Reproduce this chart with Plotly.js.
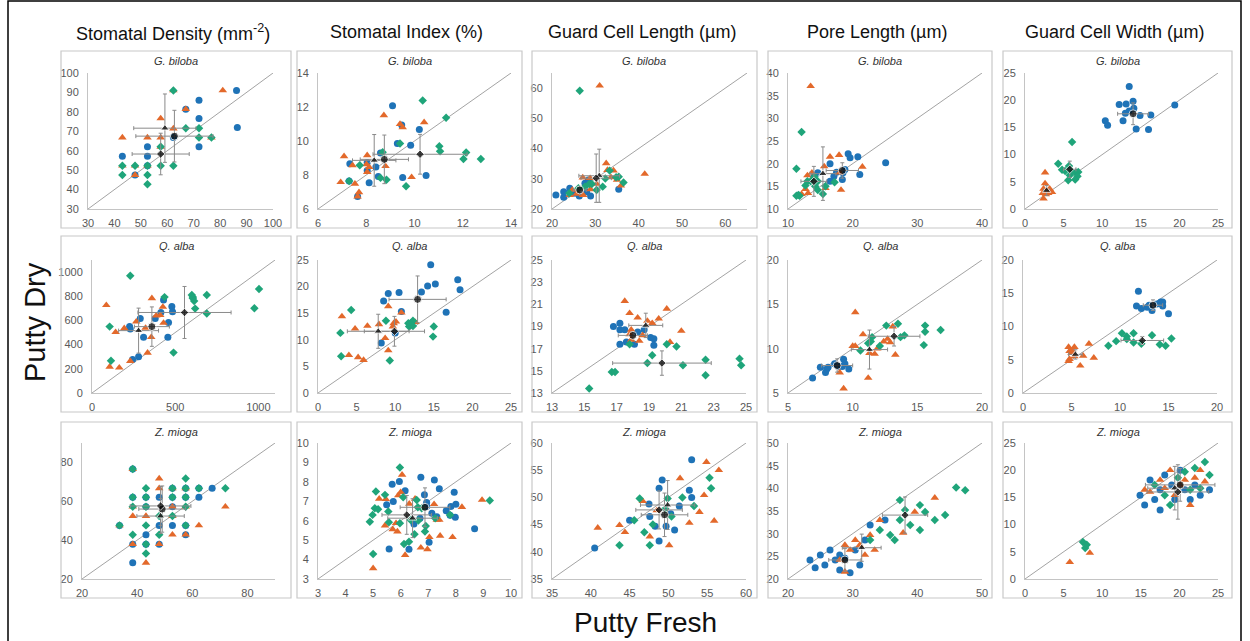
<!DOCTYPE html>
<html><head><meta charset="utf-8">
<script src="https://cdn.plot.ly/plotly-3.0.1.min.js"></script>
<style>html,body{margin:0;padding:0;background:#fff}#chart{width:1250px;height:641px}</style>
</head><body><div id="chart"></div>
<script>
// ---------- column titles / row species ----------
const colTitles = ["Stomatal Density (mm<sup>-2</sup>)","Stomatal Index (%)","Guard Cell Length (µm)","Pore Length (µm)","Guard Cell Width (µm)"];
const species = ["G. biloba","Q. alba","Z. mioga"];
const xAxisTitle = "Putty Fresh";
const yAxisTitle = "Putty Dry";

// ---------- axis ranges per panel (row-major) ----------
const ranges = [[30,100],[6,14],[20,65],[10,40],[0,25],
                [0,1100],[0,25],[13,25],[5,20],[0,20],
                [20,90],[3,10],[35,60],[20,50],[0,25]];
const tickStart = [30,6,20,10,0, 0,0,13,5,0, 20,3,35,20,0];
const xTickStep = [10,2,10,10,5, 500,5,2,5,5, 20,1,5,10,5];
const yTickStep = [10,2,10,5,5, 200,5,2,5,5, 20,1,5,5,5];

// ---------- data: blue circles, orange triangles, green diamonds; means [blue, orange, green] ----------
// Panel 1: G. biloba, stomatal density
const p1_blue_x = [86.2,72,72,67,62.3,86.5,72,52.5,52.5,43,52.5,47.8];
const p1_blue_y = [91,86,76.6,81.4,66.8,72,62,62,57.1,57.1,52.3,47.5];
const p1_orange_x = [81,67,62.3,57.5,43,52.5,57.5,62.3,76.7,57.5,43,47.8,52.5,47.8];
const p1_orange_y = [91,81.4,91,76.6,66.8,66.8,66.8,71.4,66.8,62,52.3,52.3,52.3,47.5];
const p1_green_x = [62.3,67,72,72,76.7,57.5,43,47.8,52.5,57.5,62.3,43,52.5,52.5];
const p1_green_y = [91,71.6,71.6,66.8,66.8,62,52.3,52.3,52.3,52.3,52.3,47.5,47.5,42.7];
const p1_mean_x = [62.7,59.1,57.5], p1_mean_y = [67.5,71.6,58.3], p1_mean_ex = [14.6,11.8,10.8], p1_mean_ey = [13.3,17.6,10.7];
// Panel 2: G. biloba, stomatal index
const p2_blue_x = [9.09,10.2,9.47,9.84,9.29,8.59,8.04,7.32,8.4,8.04,8.5,9.51,10.48,8.12,7.29,7.64];
const p2_blue_y = [12.08,10.68,10.94,9.75,9.85,9.3,8.74,8.66,8.47,8.27,7.91,7.85,7.97,7.54,7.64,6.73];
const p2_orange_x = [8.73,10.4,9.4,9.51,7.08,8.04,7.43,8.01,8.12,8.04,8.8,6.94,7.53,7.7,7.64,9.88];
const p2_orange_y = [11.51,11.1,11.0,10.8,9.1,9.16,8.57,8.63,8.47,8.17,8.52,7.58,7.48,6.98,6.73,7.87];
const p2_green_x = [10.34,11.31,11.03,11.06,12.14,12.03,12.75,8.68,9.4,7.73,8.59,8.84,9.65,7.29];
const p2_green_y = [12.38,11.37,9.69,9.4,9.32,8.94,8.94,9.34,9.85,8.57,7.83,7.72,7.34,7.64];
const p2_mean_x = [8.75,8.33,10.23], p2_mean_y = [8.92,8.86,9.22], p2_mean_ex = [1.0,0.9,1.95], p2_mean_ey = [1.43,1.52,1.17];
// Panel 3: G. biloba, guard cell length
const p3_blue_x = [20.9,22.7,22.7,24.1,25.3,26.3,27.6,28.0,28.9,28.4,35.4];
const p3_blue_y = [24.6,25.7,23.9,26.9,25.2,24.3,28.5,25.7,24.3,29.6,26.5];
const p3_orange_x = [31.0,41.4,24.1,24.7,25.7,27.2,27.1,28.8,28.9,30.3,32.5,32.8,33.6,34.2,35.0,35.9];
const p3_orange_y = [60.8,31.6,24.6,26.3,25.0,24.6,30.4,30.2,26.5,28.3,35.1,32.9,30.5,32.7,29.6,27.7];
const p3_green_x = [26.4,24.0,26.1,27.6,29.2,30.3,31.7,32.3,33.3,34.8,35.4,36.5,28.6];
const p3_green_y = [59.1,25.2,26.9,27.4,28.3,26.3,27.4,30.1,32.7,30.5,30.7,28.8,28.3];
const p3_mean_x = [26.4,30.9,30.2], p3_mean_y = [26.3,31.0,30.2], p3_mean_ex = [1.5,4.7,3.5], p3_mean_ey = [1.2,8.8,8.0];
// Panel 4: G. biloba, pore length
const p4_blue_x = [25.1,19.3,19.6,20.8,21.1,16.5,17.5,18.5,18.8,18.4,16.5,14.6,14.0,17.1];
const p4_blue_y = [20.2,22.2,21.3,21.5,17.6,20.0,18.1,18.0,18.7,16.5,16.1,18.0,17.1,17.2];
const p4_orange_x = [13.5,16.5,17.9,15.6,21.5,18.2,13.0,13.7,12.7,13.1,12.1,15.8,18.0];
const p4_orange_y = [37.1,21.5,21.9,19.4,19.3,14.2,17.4,18.0,14.4,13.5,13.3,14.6,18.0];
const p4_green_x = [12.1,11.3,11.6,11.8,12.7,13.0,13.5,14.2,14.6,15.4,15.8,14.6,17.2,14.1,11.3];
const p4_green_y = [27.0,18.9,13.1,12.9,15.2,16.1,16.1,15.0,14.2,13.3,15.0,16.1,15.9,17.1,12.9];
const p4_mean_x = [18.4,15.4,14.0], p4_mean_y = [18.5,17.8,16.1], p4_mean_ex = [2.5,2.0,2.0], p4_mean_ey = [1.7,5.9,3.3];
// Panel 5: G. biloba, guard cell width
const p5_blue_x = [13.5,12.2,13.1,14.0,14.1,13.5,13.0,14.9,16.3,19.4,10.4,10.7,12.7,14.4,16.0];
const p5_blue_y = [22.5,19.2,19.3,19.8,18.5,18.0,17.6,17.2,17.3,19.1,16.2,15.4,16.2,14.7,14.6];
const p5_orange_x = [2.6,2.6,2.3,2.4,2.7,3.0,3.2,3.0,2.4,3.5];
const p5_orange_y = [6.7,4.7,2.9,1.9,2.7,3.4,3.7,2.9,3.7,3.1];
const p5_green_x = [6.1,4.3,5.7,4.8,5.2,5.8,5.6,6.6,6.9,6.8,6.5,6.1];
const p5_green_y = [12.3,8.3,7.9,7.2,7.0,6.2,5.3,6.7,6.8,6.0,5.4,6.8];
const p5_mean_x = [14.0,2.8,5.8], p5_mean_y = [17.5,3.4,7.3], p5_mean_ex = [2.0,0.4,0.8], p5_mean_ey = [2.0,0.9,1.5];
// Panel 6: Q. alba, stomatal density
const p6_blue_x = [430,480,484,414,380,290,226,230,460,310,456,244,280];
const p6_blue_y = [769,715,671,666,617,617,549,530,584,462,462,277,299];
const p6_orange_x = [360,86,426,410,386,266,194,142,322,430,356,334,230,106,164];
const p6_orange_y = [783,726,712,644,639,590,535,503,538,579,462,332,264,217,209];
const p6_green_x = [230,606,436,600,606,614,690,620,690,976,1004,106,114,490];
const p6_green_y = [970,793,793,810,783,761,810,698,658,701,861,549,266,334];
const p6_mean_x = [360,280,556], p6_mean_y = [549,516,666], p6_mean_ex = [105,120,280], p6_mean_ey = [163,186,215];
// Panel 7: Q. alba, stomatal index
const p7_blue_x = [14.6,18.1,18.4,15.2,14.2,13.4,10.5,9.1,8.5,16.6,10.8,8.2,10.0];
const p7_blue_y = [24.1,21.3,19.4,20.5,20.1,19.0,18.9,18.7,17.3,15.2,15.3,9.4,11.3];
const p7_orange_x = [3.1,9.1,10.8,4.8,6.4,7.9,9.7,10.1,9.8,12.6,8.7,9.1,4.0,5.2,5.9];
const p7_orange_y = [14.4,16.3,15.1,12.1,12.6,12.9,12.5,13.4,13.1,13.3,10.3,8.0,7.1,6.7,6.2];
const p7_green_x = [4.3,2.9,3.0,8.8,9.3,12.3,12.0,11.8,12.3,15.0,14.9,11.7];
const p7_green_y = [15.6,11.3,6.9,13.6,6.1,13.6,13.1,12.5,12.6,12.5,10.6,13.1];
const p7_mean_x = [12.9,7.8,9.9], p7_mean_y = [17.6,11.6,11.6], p7_mean_ex = [3.7,4.0,3.9], p7_mean_ey = [4.4,3.2,2.8];
// Panel 8: Q. alba, guard cell length
const p8_blue_x = [16.8,17.2,17.2,17.5,18.7,18.3,19.1,19.3,17.2,17.6,18.1,19.3];
const p8_blue_y = [19.0,19.3,18.7,18.7,18.7,18.5,18.0,17.9,17.4,17.6,17.4,17.3];
const p8_orange_x = [17.5,17.8,18.3,20.1,18.9,19.2,19.6,21.0,17.9,17.8,18.6,17.9,18.4,20.3];
const p8_orange_y = [21.3,20.2,19.8,20.6,19.5,19.3,19.7,18.6,18.7,18.3,18.2,17.8,17.7,17.6];
const p8_green_x = [17.8,19.2,18.9,20.1,20.7,21.1,22.5,22.5,24.6,24.7,16.7,16.9,15.3];
const p8_green_y = [17.4,16.4,15.7,17.4,17.2,15.5,16.0,14.6,16.1,15.5,14.9,14.9,13.4];
const p8_mean_x = [18.0,18.8,19.8], p8_mean_y = [18.2,19.1,15.7], p8_mean_ex = [0.9,1.05,3.05], p8_mean_ey = [0.3,1.1,1.1];
// Panel 9: Q. alba, pore length
const p9_blue_x = [6.9,7.5,7.9,8.0,8.1,8.6,9.2,9.3,9.4,9.7,8.9];
const p9_blue_y = [6.7,7.9,7.3,7.7,7.9,8.3,8.0,8.8,8.3,7.7,8.0];
const p9_orange_x = [10.2,10.8,10.0,10.2,13.1,12.4,12.7,12.9,11.9,11.7,11.3,13.3,9.0,11.2,9.3];
const p9_orange_y = [14.1,11.6,10.3,10.3,12.5,10.8,11.1,10.7,10.0,9.4,9.5,9.3,7.3,6.7,5.5];
const p9_green_x = [10.6,11.5,11.2,11.4,12.1,12.6,13.5,13.7,14.0,15.6,15.6,15.5,16.8];
const p9_green_y = [9.8,11.3,10.6,10.8,10.3,12.6,12.8,11.3,11.5,12.6,11.9,10.4,12.1];
const p9_mean_x = [8.8,11.3,13.2], p9_mean_y = [8.1,9.9,11.4], p9_mean_ex = [1.2,1.4,2.0], p9_mean_ey = [0.75,2.2,1.1];
// Panel 10: Q. alba, guard cell width
const p10_blue_x = [11.9,11.7,12.2,12.8,13.3,13.8,14.2,14.4,15.0,13.0,14.1,14.4];
const p10_blue_y = [15.3,13.1,12.7,12.9,12.4,13.4,13.7,13.1,11.9,13.2,13.5,13.7];
const p10_orange_x = [4.7,5.3,6.8,4.8,5.0,4.7,4.8,5.3,6.2,7.3,5.9,5.1];
const p10_orange_y = [6.9,6.9,7.4,6.3,6.0,4.8,5.1,5.5,5.6,5.3,4.1,6.4];
const p10_green_x = [8.8,9.6,10.2,10.7,10.7,11.4,11.4,12.2,13.3,14.1,14.7,15.3];
const p10_green_y = [7.1,7.8,9.0,8.5,8.1,7.6,9.0,7.4,8.7,7.3,7.1,8.2];
const p10_mean_x = [13.4,5.4,12.3], p10_mean_y = [13.2,5.8,7.9], p10_mean_ex = [1.0,0.7,2.2], p10_mean_ey = [0.8,0.7,0.6];
// Panel 11: Z. mioga, stomatal density
const p11_blue_x = [67.2,48,62.4,43.2,52.8,48,52.8,43.2,57.6,38.4,48,38.4,38.4,52.8,57.6,62.4,38.4,43.2,52.8,57.6,33.6,57.6,43.2];
const p11_blue_y = [66.7,62.1,62.1,57.2,57.2,47.6,47.6,42.8,42.8,37.9,37.9,28.3,76.6,66.7,66.7,66.7,62.1,62.1,62.1,62.1,47.6,47.6,37.9];
const p11_orange_x = [38.4,48,48,52.8,57.6,38.4,52.8,57.6,72,38.4,43.2,52.8,33.6,62.4,52.8,57.6,38.4,48,43.2];
const p11_orange_y = [76.6,71.7,66.7,66.7,66.7,57.2,57.2,57.2,57.2,52.4,52.4,52.4,47.6,47.6,42.8,42.8,37.9,37.9,28.3];
const p11_green_x = [38.4,57.6,43.2,52.8,57.6,62.4,72,38.4,43.2,52.8,57.6,38.4,43.2,57.6,48,52.8,33.6,43.2,57.6,38.4,48,43.2,43.2];
const p11_green_y = [76.6,71.7,66.7,66.7,66.7,66.7,66.7,62.1,62.1,62.1,62.1,57.2,57.2,57.2,52.4,52.4,47.6,47.6,47.6,42.8,42.8,37.9,33.1];
const p11_mean_x = [49.1,48.5,48.5], p11_mean_y = [56.0,52.4,57.6], p11_mean_ex = [8.5,8.6,11], p11_mean_ey = [11.9,9,10];
// Panel 12: Z. mioga, stomatal index
const p12_blue_x = [5.95,5.69,6.73,7.22,7.4,7.94,6.16,5.73,5.49,6.86,6.94,6.94,7.13,7.31,7.65,7.79,7.82,8.0,7.98,6.7,6.48,8.68,5.58,6.3,7.03];
const p12_blue_y = [8.02,7.88,8.24,8.1,7.64,7.47,7.54,6.99,6.82,7.33,6.94,6.73,6.39,6.21,6.51,6.28,6.73,6.85,6.18,6.13,5.83,5.58,4.54,4.53,4.89];
const p12_orange_x = [6.05,6.0,5.91,5.46,5.22,6.31,6.52,7.21,8.95,8.22,7.31,7.4,5.43,5.83,5.88,5.71,7.43,7.88,7.04,6.73,6.97,6.16,5.0];
const p12_orange_y = [8.36,7.47,7.3,7.11,7.13,6.87,7.13,6.85,7.07,6.7,6.04,6.04,5.75,5.87,5.44,5.56,5.22,5.15,5.15,4.61,4.53,4.23,3.55];
const p12_green_x = [5.97,5.1,5.43,5.06,5.18,5.55,4.98,4.88,5.57,5.97,6.09,6.58,6.76,6.62,6.36,6.64,6.91,6.88,6.5,6.12,6.3,5.0,9.23,7.79,7.25];
const p12_green_y = [8.74,7.5,7.33,6.64,6.59,6.47,6.3,5.95,5.92,5.87,7.21,7.07,6.64,6.69,6.04,6.01,5.73,5.44,5.3,4.8,4.92,4.29,7.04,6.3,6.13];
const p12_mean_x = [6.88,6.43,6.22], p12_mean_y = [6.69,6.13,6.3], p12_mean_ex = [0.9,0.9,0.9], p12_mean_ey = [1.0,1.0,1.0];
// Panel 13: Z. mioga, guard cell length
const p13_blue_x = [53.0,52.7,53.0,48.8,49.2,47.6,48.3,48.8,45,49.7,40.5,50.8,51.4,47.5,50.3];
const p13_blue_y = [56.9,51.3,50.0,51.7,53.2,46.5,44.7,42.0,45.8,44.7,40.7,44.0,48.4,48.8,47.0];
const p13_orange_x = [54.9,54.6,55.9,54.0,48.5,46.7,44.4,43.7,50.1,40.9,47.6,52.7,56.5,51.5];
const p13_orange_y = [56.5,50.4,45.7,47.3,47.6,49.3,43.6,44.9,41.2,44.4,42.8,45.3,55.0,53.5];
const p13_green_x = [55.3,55.5,51.8,49.9,46.3,47.6,46.9,50.4,49.6,43.7,45.6,53.3,48.0];
const p13_green_y = [53.6,51.7,50.0,49.8,49.8,41.2,43.6,46.5,47.9,41.2,45.8,48.4,45.0];
const p13_mean_x = [49.5,49.9,48.8], p13_mean_y = [46.8,48.6,47.7], p13_mean_ex = [3,3.5,3], p13_mean_ey = [4,4.5,3.5];
// Panel 14: Z. mioga, pore length
const p14_blue_x = [35.0,32.7,30.4,28.0,26.5,25.0,24.2,25.7,28.0,29.6,27.3,28.8,31.1,23.4,31.9];
const p14_blue_y = [33.0,31.9,26.4,25.3,26.4,25.3,22.5,23.1,22.0,21.4,24.2,24.6,23.1,24.2,28.6];
const p14_orange_x = [42.7,37.8,34.2,32.7,31.1,29.6,31.9,28.0,28.8,33.4,30.4,39.6,28.8];
const p14_orange_y = [37.9,30.2,33.0,29.7,27.5,26.4,25.3,24.2,21.6,26.4,28.6,34.8,27.5];
const p14_green_x = [47.4,46.0,40.4,37.3,38.9,36.5,40.4,42.7,41.2,38.1,34.2,32.7,44.3,37.3,35.8];
const p14_green_y = [39.6,40.2,36.3,33.0,31.9,28.6,30.8,33.0,34.8,35.2,30.8,28.6,34.1,37.4,29.7];
const p14_mean_x = [28.8,31.4,38.1], p14_mean_y = [24.2,26.9,34.1], p14_mean_ex = [2.5,3,3.5], p14_mean_ey = [2.5,3,4];
// Panel 15: Z. mioga, guard cell width
const p15_blue_x = [20.1,19.0,17.5,16.2,18.1,20.7,22.0,22.7,23.9,16.8,15.5,17.5,19.4,14.9,21.4];
const p15_blue_y = [20.0,17.3,16.4,18.2,19.1,16.4,17.3,15.4,16.4,14.6,13.6,12.7,14.6,15.4,14.6];
const p15_orange_x = [18.8,22.0,20.7,16.2,18.1,19.4,21.4,22.7,20.1,17.5,23.3,15.5,8.4,5.8];
const p15_orange_y = [20.0,18.6,18.2,16.0,16.7,15.4,13.6,20.0,17.3,18.2,17.9,16.4,4.8,3.1];
const p15_green_x = [23.3,22.0,23.9,20.7,19.8,18.1,21.4,22.7,18.8,16.8,7.5,7.8,8.0];
const p15_green_y = [21.5,20.4,19.1,19.7,18.6,15.4,16.4,16.7,13.6,17.3,6.8,5.7,6.3];
const p15_mean_x = [20.1,19.4,19.8], p15_mean_y = [17.3,16.7,16.0], p15_mean_ex = [4.5,3.5,4], p15_mean_ey = [3,4,5];

const panels = [
 [p1_blue_x,p1_blue_y,p1_orange_x,p1_orange_y,p1_green_x,p1_green_y,p1_mean_x,p1_mean_y,p1_mean_ex,p1_mean_ey],
 [p2_blue_x,p2_blue_y,p2_orange_x,p2_orange_y,p2_green_x,p2_green_y,p2_mean_x,p2_mean_y,p2_mean_ex,p2_mean_ey],
 [p3_blue_x,p3_blue_y,p3_orange_x,p3_orange_y,p3_green_x,p3_green_y,p3_mean_x,p3_mean_y,p3_mean_ex,p3_mean_ey],
 [p4_blue_x,p4_blue_y,p4_orange_x,p4_orange_y,p4_green_x,p4_green_y,p4_mean_x,p4_mean_y,p4_mean_ex,p4_mean_ey],
 [p5_blue_x,p5_blue_y,p5_orange_x,p5_orange_y,p5_green_x,p5_green_y,p5_mean_x,p5_mean_y,p5_mean_ex,p5_mean_ey],
 [p6_blue_x,p6_blue_y,p6_orange_x,p6_orange_y,p6_green_x,p6_green_y,p6_mean_x,p6_mean_y,p6_mean_ex,p6_mean_ey],
 [p7_blue_x,p7_blue_y,p7_orange_x,p7_orange_y,p7_green_x,p7_green_y,p7_mean_x,p7_mean_y,p7_mean_ex,p7_mean_ey],
 [p8_blue_x,p8_blue_y,p8_orange_x,p8_orange_y,p8_green_x,p8_green_y,p8_mean_x,p8_mean_y,p8_mean_ex,p8_mean_ey],
 [p9_blue_x,p9_blue_y,p9_orange_x,p9_orange_y,p9_green_x,p9_green_y,p9_mean_x,p9_mean_y,p9_mean_ex,p9_mean_ey],
 [p10_blue_x,p10_blue_y,p10_orange_x,p10_orange_y,p10_green_x,p10_green_y,p10_mean_x,p10_mean_y,p10_mean_ex,p10_mean_ey],
 [p11_blue_x,p11_blue_y,p11_orange_x,p11_orange_y,p11_green_x,p11_green_y,p11_mean_x,p11_mean_y,p11_mean_ex,p11_mean_ey],
 [p12_blue_x,p12_blue_y,p12_orange_x,p12_orange_y,p12_green_x,p12_green_y,p12_mean_x,p12_mean_y,p12_mean_ex,p12_mean_ey],
 [p13_blue_x,p13_blue_y,p13_orange_x,p13_orange_y,p13_green_x,p13_green_y,p13_mean_x,p13_mean_y,p13_mean_ex,p13_mean_ey],
 [p14_blue_x,p14_blue_y,p14_orange_x,p14_orange_y,p14_green_x,p14_green_y,p14_mean_x,p14_mean_y,p14_mean_ex,p14_mean_ey],
 [p15_blue_x,p15_blue_y,p15_orange_x,p15_orange_y,p15_green_x,p15_green_y,p15_mean_x,p15_mean_y,p15_mean_ex,p15_mean_ey]
];

// ---------- geometry (pixels) ----------
const W = 1250, H = 641;
const fx = p => p / W, fy = p => 1 - p / H;
const plotX = [
  [[88,273],[318,511],[552,747],[788,982],[1025,1218]],
  [[92,275],[318,511],[552,746],[788,982],[1023,1217]],
  [[82,275],[318,511],[552,746],[788,982],[1025,1218]]];
const plotY = [[73,209],[260,393],[443,579]];
const boxX = [[61,291],[297,522],[532,757],[768,992],[1003,1232]];
const boxY = [[51,228],[236,412],[422,598]];

const BLUE = "#1f73b7", ORANGE = "#e3692b", GREEN = "#1fa57a";
const FONT = "Liberation Sans, Arial, Helvetica, sans-serif";

const traces = [];
const layout = {
  width: W, height: H, margin: {l:0,r:0,t:0,b:0},
  paper_bgcolor: "#fff", plot_bgcolor: "rgba(0,0,0,0)",
  showlegend: false, font: {family: FONT, color: "#595959", size: 11},
  shapes: [], annotations: []
};

for (let k = 0; k < 15; k++) {
  const r = Math.floor(k / 5), c = k % 5, n = k + 1;
  const xs = n === 1 ? "" : String(n);
  const xa = "x" + xs, ya = "y" + xs;
  const d = panels[k], rg = ranges[k];
  // 1:1 line
  traces.push({x: [rg[0], rg[1]], y: [rg[0], rg[1]], xaxis: xa, yaxis: ya, mode: "lines",
    line: {color: "#8c8c8c", width: 0.8}, hoverinfo: "skip"});
  traces.push({x: d[0], y: d[1], xaxis: xa, yaxis: ya, mode: "markers", cliponaxis: false,
    marker: {symbol: "circle", size: 7, color: BLUE}});
  traces.push({x: d[2], y: d[3], xaxis: xa, yaxis: ya, mode: "markers", cliponaxis: false,
    marker: {symbol: "triangle-up", size: 7.5, color: ORANGE}});
  traces.push({x: d[4], y: d[5], xaxis: xa, yaxis: ya, mode: "markers", cliponaxis: false,
    marker: {symbol: "diamond", size: 6.5, color: GREEN}});
  // means with SD bars
  traces.push({x: d[6], y: d[7], xaxis: xa, yaxis: ya, mode: "markers", cliponaxis: false,
    marker: {symbol: ["circle","triangle-up","diamond"], size: [8,7.5,6.5], color: "#000"},
    error_x: {type: "data", array: d[8], color: "#8a8a8a", thickness: 1, width: 2},
    error_y: {type: "data", array: d[9], color: "#8a8a8a", thickness: 1, width: 2}});

  const px = plotX[r][c], py = plotY[r];
  layout["xaxis" + xs] = {domain: [fx(px[0]), fx(px[1])], range: rg, anchor: ya,
    showgrid: false, zeroline: false, showline: true, linecolor: "#c4c4c4", linewidth: 1,
    ticks: "", dtick: xTickStep[k], tick0: tickStart[k], ticklabelstandoff: 4,
    tickfont: {family: FONT, size: 11, color: "#595959"}};
  layout["yaxis" + xs] = {domain: [fy(py[1]), fy(py[0])], range: rg, anchor: xa,
    showgrid: false, zeroline: false, showline: true, linecolor: "#c4c4c4", linewidth: 1,
    ticks: "", dtick: yTickStep[k], tick0: tickStart[k], ticklabelstandoff: 6,
    tickfont: {family: FONT, size: 11, color: "#595959"}};

  const bx = boxX[c], by = boxY[r];
  layout.shapes.push({type: "rect", xref: "paper", yref: "paper",
    x0: fx(bx[0]), x1: fx(bx[1]), y0: fy(by[1]), y1: fy(by[0]),
    line: {color: "#c8c8c8", width: 1.2}, fillcolor: "rgba(0,0,0,0)"});
  layout.annotations.push({xref: "paper", yref: "paper", x: fx((bx[0] + bx[1]) / 2), y: fy(by[0] + 10),
    text: "<i>" + species[r] + "</i>", showarrow: false, xanchor: "center", yanchor: "middle",
    font: {family: FONT, size: 11, color: "#333"}});
}

// column titles
colTitles.forEach((t, c) => {
  layout.annotations.push({xref: "paper", yref: "paper", x: fx((boxX[c][0] + boxX[c][1]) / 2 - 3), y: fy(32),
    text: t, showarrow: false, xanchor: "center", yanchor: "middle",
    font: {family: FONT, size: 18, color: "#111"}});
});
// axis titles
layout.annotations.push({xref: "paper", yref: "paper", x: fx(35), y: fy(322), text: yAxisTitle,
  textangle: -90, showarrow: false, xanchor: "center", yanchor: "middle",
  font: {family: FONT, size: 29, color: "#111"}});
layout.annotations.push({xref: "paper", yref: "paper", x: fx(645), y: fy(622), text: xAxisTitle,
  showarrow: false, xanchor: "center", yanchor: "middle",
  font: {family: FONT, size: 28, color: "#111"}});
// outer frame
layout.shapes.push({type: "rect", xref: "paper", yref: "paper", x0: fx(8), x1: fx(1241), y0: fy(660), y1: fy(1),
  line: {color: "#000", width: 1.5}, fillcolor: "rgba(0,0,0,0)"});

Plotly.newPlot("chart", traces, layout, {staticPlot: true, displayModeBar: false});
</script></body></html>
